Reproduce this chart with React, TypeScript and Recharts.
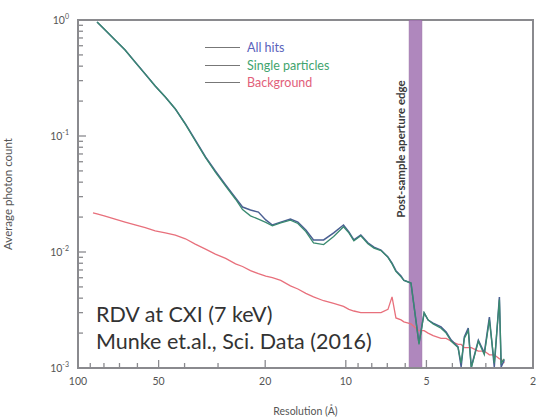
import {
  Legend,
  Line,
  LineChart,
  ReferenceArea,
  XAxis,
  YAxis,
} from "recharts";

// resolution in Å (x), average photon count (y)
const resolution = [
  87.9, 84.9, 79.2, 72.7, 66.7, 61.2, 56.1, 51.5, 47.2, 43.3, 39.7, 36.5, 33.4, 30.7, 28.1, 25.8, 24.3,
  22.7, 21.2, 19.9, 18.8, 17.5, 16.1, 15.1, 14.1, 13.2, 12.1, 11.1, 10.2, 9.74, 9.33, 8.79, 8.27, 7.85,
  7.39, 6.96, 6.72, 6.5, 6.22, 6.07, 5.71, 5.33, 5.1, 4.93, 4.72, 4.41, 4.22, 4.04, 3.81, 3.71, 3.61,
  3.49, 3.4, 3.2, 3.04, 2.91, 2.79, 2.67, 2.63, 2.56,
];
const allHits = [
  null, 0.961, 0.82, 0.672, 0.551, 0.434, 0.342, 0.27, 0.217, 0.171, 0.127, 0.0924, 0.0659, 0.0499, 0.0378,
  0.0292, 0.0244, 0.023, 0.0221, 0.0189, 0.0171, 0.0181, 0.0192, 0.0181, 0.0155, 0.0127, 0.0127, 0.0146,
  0.0171, 0.0149, 0.0127, 0.014, 0.012, 0.011, 0.0104, 0.00905, 0.008, 0.0069, 0.0062, 0.0057, 0.0054,
  0.00164, 0.00298, 0.00259, 0.00244, 0.00226, 0.00204, 0.00174, 0.00152, 0.00102, 0.00185, 0.00221,
  0.00102, 0.00174, 0.00135, 0.00275, 0.00102, 0.00409, 0.00102, 0.00117,
];
const singleParticles = [
  null, 0.961, 0.82, 0.672, 0.551, 0.434, 0.342, 0.27, 0.217, 0.171, 0.126, 0.091, 0.065, 0.0488, 0.037,
  0.0285, 0.0232, 0.0205, 0.0192, 0.018, 0.0168, 0.0178, 0.0188, 0.0176, 0.015, 0.012, 0.0116, 0.0136,
  0.0165, 0.0146, 0.0125, 0.0138, 0.0118, 0.0108, 0.0103, 0.009, 0.0079, 0.0068, 0.0061, 0.0057, 0.0054,
  0.0016, 0.003, 0.0026, 0.0024, 0.0022, 0.002, 0.0017, 0.0015, 0.0011, 0.0018, 0.0021, 0.001, 0.0017,
  0.0013, 0.0026, 0.0011, 0.0039, 0.0011, 0.0012,
];
const background = [
  0.0217, 0.0213, 0.0204, 0.0192, 0.0181, 0.0171, 0.0162, 0.0152, 0.0146, 0.014, 0.013, 0.0117, 0.0106,
  0.0096, 0.0088, 0.0079, 0.0075, 0.0069, 0.0065, 0.0062, 0.006, 0.0057, 0.0051, 0.0048, 0.0044, 0.0041,
  0.0038, 0.0036, 0.0034, 0.0032, 0.0031, 0.003, 0.003, 0.003, 0.003, 0.0032, 0.0041, 0.0027, 0.0026,
  0.0025, 0.0024, 0.0021, 0.0021, 0.002, 0.0019, 0.0018, 0.0018, 0.0017, 0.0016, 0.0016, 0.0015, 0.0015,
  0.0015, 0.0014, 0.0014, 0.0013, 0.0013, 0.0012, 0.0012, 0.0011,
];

const xMajor = [100, 50, 20, 10, 5, 2];
const xMinor = [90, 80, 70, 60, 40, 30, 9, 8, 7, 6, 4, 3];
const yMajor = [1, 0.1, 0.01, 0.001];
const yExp: Record<string, string> = { "1": "0", "0.1": "-1", "0.01": "-2", "0.001": "-3" };
const yMinor = [0.002, 0.003, 0.004, 0.005, 0.006, 0.007, 0.008, 0.009, 0.02, 0.03, 0.04, 0.05, 0.06,
  0.07, 0.08, 0.09, 0.2, 0.3, 0.4, 0.5, 0.6, 0.7, 0.8, 0.9];
const xDomain = [2, 100];
const yDomain = [0.001, 1];
const aperture = [5.8, 5.2];

const seriesNames = ["All hits", "Single particles", "Background"];
const legendColors = ["#5a63bb", "#3fa46e", "#e2607a"];

const data = resolution.map((r, i) => ({
  res: r,
  all: allHits[i],
  single: singleParticles[i],
  bg: background[i],
}));

const labelColor = "#555";
const frameColor = "#8a8a8e";
const fontStack = "Lato, 'Open Sans', sans-serif";

const XTick = (props: any) => {
  const { x, y, payload, top } = props;
  const major = xMajor.includes(payload.value);
  const len = major ? 8 : 5;
  const dir = top ? 1 : -1;
  return (
    <g>
      <line x1={x} x2={x} y1={y} y2={y + dir * len} stroke={frameColor} strokeWidth={1.3} />
      {!top && major && (
        <text x={x} y={y + 17} textAnchor="middle" fontSize={10.5} fill={labelColor} stroke="none" fontFamily={fontStack}>
          {payload.value}
        </text>
      )}
    </g>
  );
};

const YTick = (props: any) => {
  const { x, y, payload, right } = props;
  const major = yMajor.includes(payload.value);
  const len = major ? 8 : 5;
  const dir = right ? -1 : 1;
  return (
    <g>
      <line x1={x} x2={x + dir * len} y1={y} y2={y} stroke={frameColor} strokeWidth={1.3} />
      {!right && major && (
        <text x={x - 9} y={y + 4} textAnchor="end" fontSize={10.5} fill={labelColor} stroke="none" fontFamily={fontStack}>
          10
          <tspan dy={-5} fontSize={7}>
            {yExp[String(payload.value)]}
          </tspan>
        </text>
      )}
    </g>
  );
};

const BandLabel = ({ viewBox }: any) => {
  const cx = viewBox.x - 9;
  const cy = viewBox.y + 129;
  return (
    <text
      x={cx}
      y={cy}
      transform={`rotate(-90 ${cx} ${cy})`}
      textAnchor="middle"
      dominantBaseline="central"
      fontSize={11.5}
      fontWeight={700}
      fill="#3a3a3a"
      fontFamily={fontStack}
    >
      Post-sample aperture edge
    </text>
  );
};

const LegendBox = () => (
  <div style={{ fontFamily: fontStack, fontSize: 12.5 }}>
    {seriesNames.map((n, i) => (
      <div key={n} style={{ display: "flex", alignItems: "center", height: 17.5 }}>
        <span style={{ display: "inline-block", width: 35, height: 1, background: "#777", marginRight: 7 }} />
        <span style={{ color: legendColors[i] }}>{n}</span>
      </div>
    ))}
  </div>
);

export default function App() {
  return (
    <div style={{ position: "absolute", left: 0, top: 0, width: 540, height: 418, background: "#fff" }}>
      <LineChart width={540} height={418} data={data} margin={{ top: 20, right: 7, bottom: 0, left: 0 }}>
        <XAxis
          dataKey="res"
          type="number"
          scale="log"
          domain={xDomain}
          reversed
          allowDataOverflow
          ticks={[...xMajor, ...xMinor]}
          interval={0}
          tickSize={0}
          tickMargin={0}
          height={50}
          stroke={frameColor}
          axisLine={{ stroke: frameColor, strokeWidth: 2 }}
          tickLine={false}
          tick={<XTick />}
          label={{ value: "Resolution (Å)", position: "insideBottom", offset: 3, fontSize: 10.5, fill: labelColor, fontFamily: fontStack }}
        />
        <XAxis
          xAxisId="top"
          dataKey="res"
          type="number"
          scale="log"
          domain={xDomain}
          reversed
          allowDataOverflow
          orientation="top"
          ticks={[...xMajor, ...xMinor]}
          interval={0}
          tickSize={0}
          tickMargin={0}
          height={0}
          stroke={frameColor}
          axisLine={{ stroke: frameColor, strokeWidth: 2 }}
          tickLine={false}
          tick={<XTick top />}
        />
        <YAxis
          type="number"
          scale="log"
          domain={yDomain}
          allowDataOverflow
          ticks={[...yMajor, ...yMinor]}
          interval={0}
          tickSize={0}
          tickMargin={0}
          width={78}
          stroke={frameColor}
          axisLine={{ stroke: frameColor, strokeWidth: 2 }}
          tickLine={false}
          tick={<YTick />}
          label={{
            value: "Average photon count",
            angle: -90,
            position: "insideLeft",
            offset: 8,
            style: { textAnchor: "middle" },
            fontSize: 11.5,
            fill: labelColor,
            fontFamily: fontStack,
          }}
        />
        <YAxis
          yAxisId="right"
          orientation="right"
          type="number"
          scale="log"
          domain={yDomain}
          allowDataOverflow
          ticks={[...yMajor, ...yMinor]}
          interval={0}
          tickSize={0}
          tickMargin={0}
          width={0}
          stroke={frameColor}
          axisLine={{ stroke: frameColor, strokeWidth: 2 }}
          tickLine={false}
          tick={<YTick right />}
        />
        {/* plot frame */}
        <ReferenceArea
          x1={xDomain[0]}
          x2={xDomain[1]}
          y1={yDomain[0]}
          y2={yDomain[1]}
          fill="none"
          fillOpacity={0}
          stroke={frameColor}
          strokeWidth={2}
          strokeOpacity={1}
          ifOverflow="visible"
        />
        <ReferenceArea
          x1={aperture[0]}
          x2={aperture[1]}
          y1={yDomain[0]}
          y2={yDomain[1]}
          fill="#a67ab6"
          fillOpacity={0.9}
          stroke="#8e619c"
          strokeOpacity={0.5}
          label={BandLabel}
          ifOverflow="hidden"
        />
        {/* invisible series so the mirrored top/right axes are drawn */}
        <Line xAxisId="top" yAxisId="right" dataKey="all" stroke="none" dot={false} legendType="none" isAnimationActive={false} />
        <Line dataKey="bg" stroke="#e8707c" strokeWidth={1.3} dot={false} isAnimationActive={false} />
        <Line dataKey="all" stroke="#4a5f92" strokeWidth={1.5} dot={false} isAnimationActive={false} />
        <Line dataKey="single" stroke="#3a8a70" strokeWidth={1.3} dot={false} isAnimationActive={false} />
        <Legend
          layout="vertical"
          align="center"
          verticalAlign="middle"
          content={<LegendBox />}
          wrapperStyle={{ top: 39, left: 205, width: 170 }}
        />
      </LineChart>
      <div
        style={{
          position: "absolute",
          left: 96,
          top: 301,
          fontFamily: fontStack,
          fontSize: 21.5,
          lineHeight: "27px",
          color: "#333",
          whiteSpace: "nowrap",
        }}
      >
        <div>RDV at CXI (7 keV)</div>
        <div>Munke et.al., Sci. Data (2016)</div>
      </div>
    </div>
  );
}
